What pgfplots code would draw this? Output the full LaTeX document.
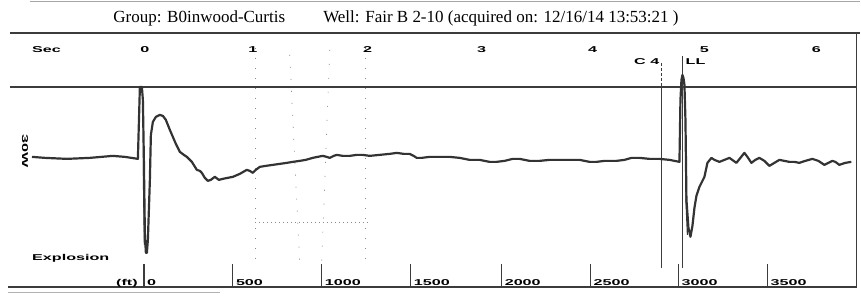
\documentclass[border=0pt]{standalone}
\usepackage{pgfplots}
\pgfplotsset{compat=1.18}
\usepackage{fontspec}
\setmainfont{Liberation Serif}
\newfontfamily\labfont{Liberation Sans}
\definecolor{ink}{HTML}{333333}
\definecolor{frame}{HTML}{3C3C3C}
\definecolor{speck}{HTML}{8A8A8A}
\newcommand\lab[1]{\scalebox{1.9}[1]{\labfont\fontsize{8.5}{9}\selectfont\bfseries #1}}
\begin{document}
\begin{tikzpicture}
\begin{axis}[x=1pt,y=1pt,xmin=0,xmax=861,ymin=0,ymax=296,y dir=reverse,
  hide axis,clip=false,scale only axis]
% bounding
\addplot[draw=none] coordinates {(0,0) (861,296)};
% frame lines
\addplot[gray!70,line width=1pt] coordinates {(30,2) (861,2)};
\addplot[frame,line width=1.4pt] coordinates {(10,33) (861,33)};
\addplot[frame,line width=1.6pt] coordinates {(10,87) (857,87)};
\addplot[frame,line width=1.5pt] coordinates {(8,287) (857,287) (857,33)};
\addplot[gray!60,line width=1.2pt] coordinates {(8,293) (220,293)};
% speckle region of the scan
\addplot[speck,line width=0.7pt,dash pattern=on 1pt off 3pt] coordinates {(255,223) (368,223)};
\addplot[speck,line width=0.7pt,dash pattern=on 1pt off 9pt] coordinates {(256,48) (256,265)};
\addplot[speck,line width=0.7pt,dash pattern=on 1pt off 9pt] coordinates {(366,48) (366,265)};
\addplot[speck,line width=0.7pt,dash pattern=on 1pt off 11pt] coordinates {(290,55) (300,265)};
\addplot[speck,line width=0.7pt,dash pattern=on 1pt off 13pt] coordinates {(330,50) (322,262)};
% bottom ticks
\addplot[frame,line width=1.3pt] coordinates {(144,287) (144,264)};
\addplot[frame,line width=1.3pt] coordinates {(233,287) (233,264)};
\addplot[frame,line width=1.3pt] coordinates {(322,287) (322,264)};
\addplot[frame,line width=1.3pt] coordinates {(411,287) (411,264)};
\addplot[frame,line width=1.3pt] coordinates {(502,287) (502,264)};
\addplot[frame,line width=1.3pt] coordinates {(591,287) (591,264)};
\addplot[frame,line width=1.3pt] coordinates {(679,287) (679,264)};
\addplot[frame,line width=1.3pt] coordinates {(768,287) (768,264)};
% marker lines
\addplot[frame,line width=1.3pt,dash pattern=on 3pt off 2pt] coordinates {(662,63) (662,87)};
\addplot[frame,line width=1.3pt] coordinates {(662,87) (662,268)};
\addplot[frame,line width=1.5pt] coordinates {(683,56) (683,268)};
% trace
\addplot[ink,line width=2.2pt,line join=round] coordinates {
(32,157)(45,158)(67,159)(90,158)(113,156)(125,157)(138,159)(140,87)(142,87)(143,100)(144,160)(145,235)(146,253)(147,253)(148,240)(150,180)(151,135)(153,122)(156,117)(160,115)(163,116)(166,120)(170,130)(173,137)(176,144)(180,152)(184,155)(187,157)(192,162)(197,170)(200,171)(202,173)(205,178)(208,181)(211,180)(215,177)(219,180)(223,179)(228,178)(233,177)(240,174)(247,170)(250,171)(253,173)(256,170)(260,167)(266,166)(273,165)(280,164)(287,163)(293,162)(300,161)(306,160)(313,158)(318,157)(323,156)(327,157)(330,158)(334,156)(337,155)(343,156)(350,156)(357,155)(363,155)(370,156)(380,155)(390,154)(397,153)(404,154)(410,154)(414,156)(417,158)(422,158)(430,157)(440,157)(450,157)(460,158)(470,160)(480,160)(490,162)(497,162)(505,161)(513,159)(520,159)(530,161)(540,161)(550,160)(563,160)(572,160)(580,160)(590,162)(597,162)(605,161)(617,161)(625,160)(632,158)(640,158)(650,159)(660,159)(670,160)(680,162)(681,100)(682,80)(683,75)(684,78)(685,85)(686,120)(687,200)(689,228)(691,237)(693,226)(695,208)(697,196)(700,187)(705,177)(708,163)(712,158)(715,160)(720,162)(725,160)(730,158)(737,163)(741,158)(745,153)(748,157)(752,163)(756,160)(760,158)(765,161)(770,166)(775,163)(780,160)(785,161)(790,162)(795,162)(800,163)(806,161)(813,159)(819,161)(825,165)(829,163)(833,161)(836,162)(840,165)(846,163)(852,162)};
\addplot[ink,line width=1.2pt] coordinates {(143.5,105) (143.5,175) (144.5,245)};
\addplot[ink,line width=1.2pt] coordinates {(686.5,135) (686.5,200) (688,235)};
% texts
\node[anchor=base west,font=\fontsize{17}{17}\selectfont,text=black] at (axis cs:110,23) {Group: B0inwood-Curtis};
\node[anchor=base west,font=\fontsize{17}{17}\selectfont,text=black] at (axis cs:320,23) {Well: Fair B 2-10 (acquired on: 12/16/14 13:53:21 )};
\node[anchor=west,inner sep=0pt] at (axis cs:32,50) {\lab{Sec}};
\node[inner sep=0pt] at (axis cs:145,50) {\lab{0}};
\node[inner sep=0pt] at (axis cs:253,50) {\lab{1}};
\node[inner sep=0pt] at (axis cs:368,50) {\lab{2}};
\node[inner sep=0pt] at (axis cs:482,50) {\lab{3}};
\node[inner sep=0pt] at (axis cs:593,50) {\lab{4}};
\node[inner sep=0pt] at (axis cs:705,50) {\lab{5}};
\node[inner sep=0pt] at (axis cs:817,50) {\lab{6}};
\node[anchor=east,inner sep=0pt] at (axis cs:660,62) {\lab{C 4}};
\node[anchor=west,inner sep=0pt] at (axis cs:686,62) {\lab{LL}};
\node[anchor=west,inner sep=0pt] at (axis cs:32,259) {\lab{Explosion}};
\node[rotate=-90,inner sep=0pt] at (axis cs:25,151) {\lab{30W}};
\node[anchor=base east,inner sep=0pt] at (axis cs:138,286) {\lab{(ft)}};
\node[anchor=base west,inner sep=0pt] at (axis cs:147,286) {\lab{0}};
\node[anchor=base west,inner sep=0pt] at (axis cs:236,286) {\lab{500}};
\node[anchor=base west,inner sep=0pt] at (axis cs:325,286) {\lab{1000}};
\node[anchor=base west,inner sep=0pt] at (axis cs:414,286) {\lab{1500}};
\node[anchor=base west,inner sep=0pt] at (axis cs:505,286) {\lab{2000}};
\node[anchor=base west,inner sep=0pt] at (axis cs:594,286) {\lab{2500}};
\node[anchor=base west,inner sep=0pt] at (axis cs:682,286) {\lab{3000}};
\node[anchor=base west,inner sep=0pt] at (axis cs:771,286) {\lab{3500}};
\end{axis}
\end{tikzpicture}
\end{document}
